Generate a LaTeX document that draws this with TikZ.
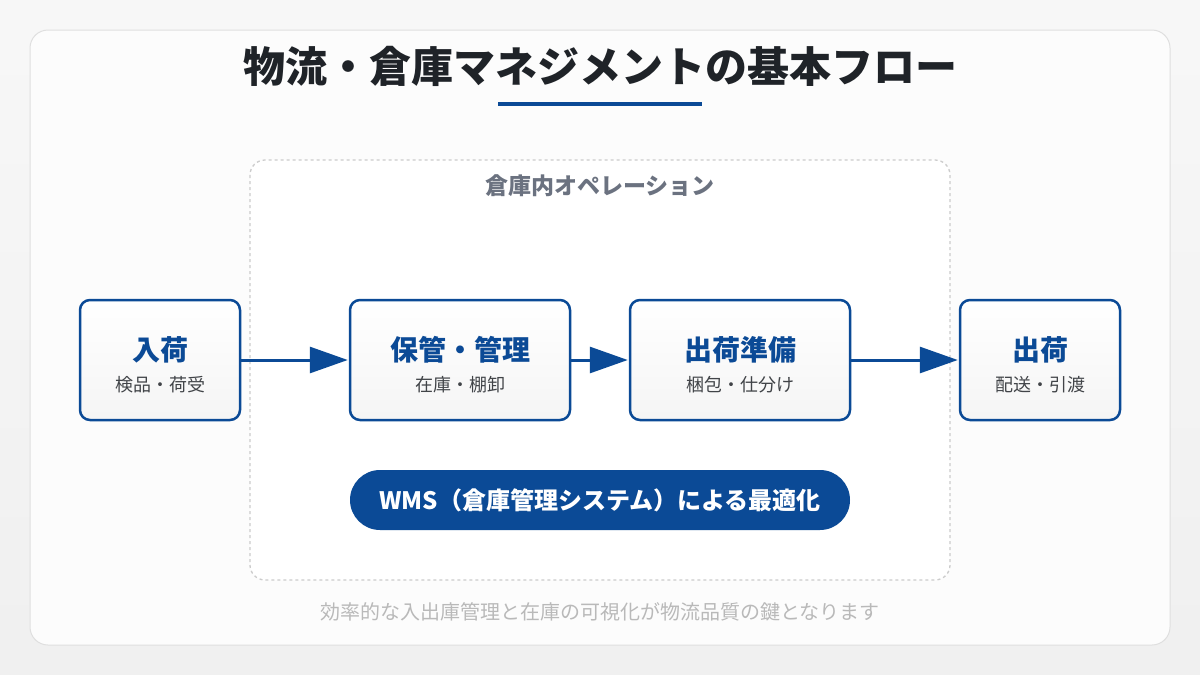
\documentclass[tikz,border=0pt]{standalone}
\usepackage{fontspec}
\setmainfont{Noto Sans CJK JP}
\usetikzlibrary{positioning, arrows.meta}
\definecolor{flowblue}{HTML}{0B4A96}
\definecolor{inkdark}{HTML}{1F2328}
\definecolor{midgray}{HTML}{6B7280}
\tikzset{
    x=1pt, y=-1pt,
    stage/.style={draw=flowblue, line width=2.5pt, rounded corners=10pt, top color=white, bottom color=gray!8, minimum height=120pt, align=center}, % process box
    flow/.style={-{Triangle[length=38pt,width=26pt]}, draw=flowblue, line width=3pt, shorten >=1pt}, % arrows between boxes
    head/.style={font=\bfseries\fontsize{28}{32}\selectfont, text=flowblue},
    sub/.style={font=\fontsize{18}{21}\selectfont, text=inkdark!85},
}
\begin{document}
\begin{tikzpicture}
\fill[top color=gray!6, bottom color=gray!12] (0,0) rectangle (1200,675);
\draw[gray!25, line width=1pt, fill=white!60!gray!5, rounded corners=18pt] (30,30) rectangle (1170,645);
\node[font=\bfseries\fontsize{42}{48}\selectfont, text=inkdark] (title) at (600,66) {物流・倉庫マネジメントの基本フロー};
\draw[flowblue, line width=4pt] (498,104) -- (702,104);
% warehouse area
\draw[gray!40, dashed, line width=1.3pt, fill=white, rounded corners=15pt] (250,160) rectangle (950,580);
\node[font=\bfseries\fontsize{23}{27}\selectfont, text=midgray] (area) at (600,186) {倉庫内オペレーション};
% stages
\node[stage, minimum width=160pt] (in) at (160,360) {};
\node[stage, minimum width=220pt] (store) at (460,360) {};
\node[stage, minimum width=220pt] (prep) at (740,360) {};
\node[stage, minimum width=160pt] (out) at (1040,360) {};
\foreach \n/\t/\s in {in/入荷/検品・荷受, store/保管・管理/在庫・棚卸, prep/出荷準備/梱包・仕分け, out/出荷/配送・引渡}{
    \node[head] at ([yshift=10pt]\n.center) {\t};
    \node[sub] at ([yshift=-25pt]\n.center) {\s};
}
\draw[flow] (in) -- (store);
\draw[flow] (store) -- (prep);
\draw[flow] (prep) -- (out);
% WMS
\node[fill=flowblue, rounded corners=30pt, minimum width=500pt, minimum height=60pt, text=white, font=\bfseries\fontsize{24}{28}\selectfont] (wms) at (600,500) {WMS（倉庫管理システム）による最適化};
\node[font=\fontsize{20}{24}\selectfont, text=gray!55] (note) at (600,612) {効率的な入出庫管理と在庫の可視化が物流品質の鍵となります};
\end{tikzpicture}
\end{document}
